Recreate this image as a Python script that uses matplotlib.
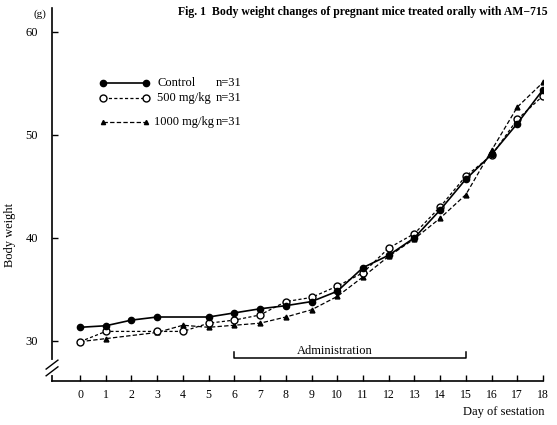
import numpy as np
import matplotlib
matplotlib.use("Agg")
import matplotlib.pyplot as plt

matplotlib.rc('font', family='serif', serif=['Liberation Serif', 'DejaVu Serif'])

days = np.arange(0, 19)
control = [31.3, 31.45, 32.0, 32.3, None, 32.3, 32.7, 33.1, 33.4, 33.8, 34.8, 37.1,
           38.3, 40.0, 42.7, 45.7, 48.1, 51.1, 54.4]
mg500 = [29.9, 30.9, None, 30.9, 30.9, 31.7, 32.0, 32.5, 33.8, 34.2, 35.3, 36.6,
         39.0, 40.4, 43.0, 46.0, 48.0, 51.5, 53.8]
mg1000 = [29.9, 30.2, None, 30.8, 31.5, 31.3, 31.5, 31.7, 32.3, 33.0, 34.3, 36.2,
          38.2, 39.9, 41.9, 44.2, 48.5, 52.7, 55.1]
yticks = [30, 40, 50, 60]
admin_start, admin_end = 6, 15


def series(vals):
    x = [d for d, v in zip(days, vals) if v is not None]
    y = [v for v in vals if v is not None]
    return x, y


fig = plt.figure(figsize=(5.57, 4.25), dpi=100)
ax = fig.add_axes([0.0934, 0.1035, 0.8815, 0.8777])
ax.set_xlim(-1.09, 18.0)
ax.set_ylim(26.08, 62.33)

styles = {
    'control': dict(color='black', lw=1.2, ls='-', marker='o', ms=4.5, mfc='black'),
    '500': dict(color='black', lw=0.9, ls=(0, (2.5, 1.8)), marker='o', ms=5, mfc='white', mew=1.0),
    '1000': dict(color='black', lw=0.9, ls=(0, (3.5, 1.8)), marker='^', ms=3.5, mfc='black'),
}
ax.plot(*series(control), **styles['control'], zorder=4)
ax.plot(*series(mg500), **styles['500'], zorder=3)
ax.plot(*series(mg1000), **styles['1000'], zorder=2)

# axes look
for s in ['top', 'right']:
    ax.spines[s].set_visible(False)
ax.spines['left'].set_linewidth(1.2)
ax.spines['bottom'].set_linewidth(1.2)
ax.set_xticks(days)
ax.set_yticks(yticks)
ax.tick_params(axis='x', direction='in', length=4, width=1, labelsize=8.5, pad=6)
ax.tick_params(axis='y', direction='in', length=4, width=1, labelsize=9, pad=10)

# axis break
tr = ax.transAxes
ax.plot([0, 0], [0.022, 0.05], color='white', lw=3, transform=tr, clip_on=False, zorder=5)
for yb in [0.026, 0.044]:
    ax.plot([-0.012, 0.012], [yb - 0.012, yb + 0.012], color='black', lw=1,
            transform=tr, clip_on=False, zorder=6)

# administration bracket
ax.plot([admin_start, admin_start, admin_end, admin_end], [28.9, 28.32, 28.32, 28.9],
        color='black', lw=1.1)
ax.text(9.9, 28.45, 'Administration', ha='center', va='bottom', fontsize=9)

# legend drawn by hand
rows = [(0.798, 'control', 'Control', 0.214), (0.758, '500', '500 mg/kg', 0.214),
        (0.695, '1000', '1000 mg/kg', 0.208)]
for fy, key, label, tx in rows:
    st = dict(styles[key])
    if key == '1000':
        st['ms'] = 3
    ax.plot([0.104, 0.191], [fy, fy], transform=tr, **st)
    ax.text(tx, fy, label, transform=tr, va='center', ha='left', fontsize=9)
    ax.text(0.334, fy, 'n=31', transform=tr, va='center', ha='left', fontsize=9)

fig.text(0.0718, 0.967, '(g)', ha='center', va='center', fontsize=8)
fig.text(0.018, 0.447, 'Body weight', rotation=90, ha='center', va='center', fontsize=9)
fig.text(0.978, 0.031, 'Day of sestation', ha='right', va='center', fontsize=9)
fig.text(0.984, 0.971, 'Fig. 1  Body weight changes of pregnant mice treated orally with AM\u2212715',
         ha='right', va='center', fontsize=8.5, fontweight='bold')

fig.savefig('out.png', dpi=100)
